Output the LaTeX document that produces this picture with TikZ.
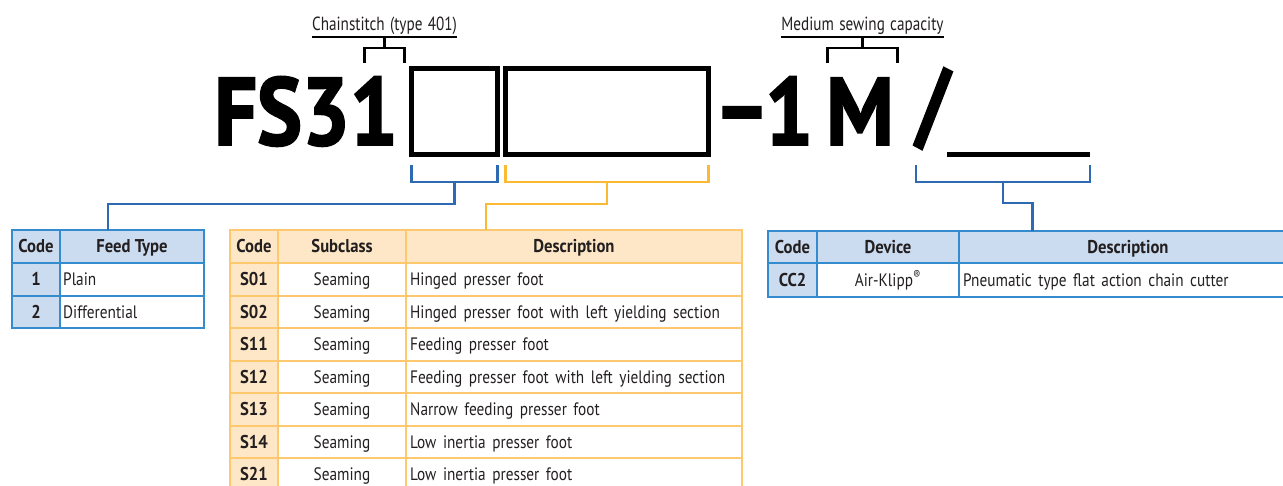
\documentclass[tikz,border=0pt]{standalone}
\usepackage{fontspec}
\setmainfont{PT Sans}[FakeStretch=0.85, WordSpace=1.6]
\newfontfamily\headfont{PT Sans}[FakeStretch=0.9]
\newfontfamily\labelfont{PT Sans}[FakeStretch=0.8, WordSpace=1.3]
\newfontfamily\bigfont{PT Sans}[FakeStretch=0.88, BoldFeatures={FakeBold=2}]
\usepackage{tikz}
\usetikzlibrary{positioning, calc}
\definecolor{linkblue}{RGB}{46,106,178}
\definecolor{tblblue}{RGB}{52,140,206}
\definecolor{fillblue}{RGB}{203,219,240}
\definecolor{linkorange}{RGB}{252,186,52}
\definecolor{tblorange}{RGB}{253,200,110}
\definecolor{fillorange}{RGB}{253,231,198}
\definecolor{ink}{RGB}{35,31,32}

\tikzset{
  bigtxt/.style={font=\bigfont\bfseries\fontsize{96}{96}\selectfont, inner sep=0, anchor=base},
  toplabel/.style={font=\labelfont\fontsize{19}{22}\selectfont, inner sep=0, anchor=base, text height=14, text depth=7, text=ink},
  codebox/.style={draw, line width=5, inner sep=0, outer sep=0},
  tag/.style={line width=2.5},
  bluelink/.style={draw=linkblue, line width=2.5},
  orangelink/.style={draw=linkorange, line width=2.5},
  celltxt/.style={inner sep=0, text height=12.5, text depth=0, text=ink, font=\fontsize{18}{20}\selectfont},
  codetxt/.style={celltxt, font=\headfont\bfseries\fontsize{18.5}{20}\selectfont},
  frame/.style={line width=2, inner sep=0, outer sep=0, anchor=north west}
}

\begin{document}
\begin{tikzpicture}[x=1pt, y=-1pt]
    \useasboundingbox (0,0) rectangle (1283,485);
    \clip (0,0) rectangle (1283,485);

    % Model code
    \node[bigtxt] (fs) at (306,145) {FS31};
    \node[codebox, minimum width=86, minimum height=86] (box1) at (454.5,111.5) {};
    \node[codebox, minimum width=203, minimum height=86] (box2) at (607,111.5) {};
    \node[bigtxt] (dash) at (742,140) {–};
    \node[bigtxt] (one) at (789,145) {1};
    \node[bigtxt] (emm) at (860,145) {M};
    \node[bigtxt] (slash) at (933,136) {/};
    \node[fill=black, inner sep=0, minimum width=143, minimum height=5] (blank) at (1018.5,154.5) {};

    % Top labels
    \node[toplabel] (chain) at (384.5,30) {Chainstitch (type 401)};
    \draw[tag] (chain.south west) -- (chain.south east);
    \draw[tag] (chain.south) -- ++(0,11) coordinate (chainmid);
    \draw[tag] ($(chainmid)+(-20,15)$) -- ++(0,-15) -- ++(40,0) -- ++(0,15);

    \node[toplabel] (medium) at (862.5,30) {Medium sewing capacity};
    \draw[tag] (medium.south west) -- (medium.south east);
    \draw[tag] (medium.south) -- ++(0,11) coordinate (mediummid);
    \draw[tag] ($(mediummid)+(-35,15)$) -- ++(0,-15) -- ++(70,0) -- ++(0,15);

    % Feed type table
    \fill[fillblue] (12,230) rectangle (204,263);
    \fill[fillblue] (12,263) rectangle (60,328);
    \draw[tblblue, line width=2] (12,263) -- (204,263) (12,296) -- (204,296) (60,230) -- (60,328);
    \node[frame, draw=tblblue, minimum width=192, minimum height=98] (feed) at (12,230) {};
    \node[codetxt] (feedcode) at (36,246.5) {Code};
    \node[codetxt] (feedtype) at (132,246.5) {Feed Type};
    \node[codetxt] (f1) at (36,279.5) {1};
    \node[celltxt, anchor=west] (f1d) at (63,279.5) {Plain};
    \node[codetxt] (f2) at (36,312) {2};
    \node[celltxt, anchor=west] (f2d) at (63,312) {Differential};

    % Subclass table
    \fill[fillorange] (230,229.5) rectangle (742,263);
    \fill[fillorange] (230,263) rectangle (278,491);
    \foreach \i in {0,...,6}
        \draw[tblorange, line width=2] (230,{263+32.5*\i}) -- (742,{263+32.5*\i});
    \draw[tblorange, line width=2] (278,229.5) -- (278,491) (406,229.5) -- (406,491);
    \node[frame, draw=tblorange, minimum width=512, minimum height=261] (sub) at (230,229.5) {};
    \node[codetxt] (subcode) at (254,246.5) {Code};
    \node[codetxt] (subclass) at (342,246.5) {Subclass};
    \node[codetxt] (subdesc) at (574,246.5) {Description};
    \foreach \c/\d [count=\i] in {S01/Hinged presser foot,
        S02/Hinged presser foot with left yielding section,
        S11/Feeding presser foot,
        S12/Feeding presser foot with left yielding section,
        S13/Narrow feeding presser foot,
        S14/Low inertia presser foot,
        S21/Low inertia presser foot} {
        \node[codetxt] (sc\i) at (254,{246.75+32.5*\i}) {\c};
        \node[celltxt] (ss\i) at (342,{246.75+32.5*\i}) {Seaming};
        \node[celltxt, anchor=west] (sd\i) at (410,{246.75+32.5*\i}) {\d};
    }

    % Device table
    \fill[fillblue] (768,231) rectangle (1297,263);
    \fill[fillblue] (768,263) rectangle (817,297);
    \draw[tblblue, line width=2] (768,263) -- (1297,263) (817,231) -- (817,297) (959,231) -- (959,297);
    \node[frame, draw=tblblue, minimum width=529, minimum height=66] (device) at (768,231) {};
    \node[codetxt] (devcode) at (792.5,247) {Code};
    \node[codetxt] (devname) at (888,247) {Device};
    \node[codetxt] (devdesc) at (1128,247) {Description};
    \node[codetxt] (cc2) at (792.5,280) {CC2};
    \node[celltxt] (airklipp) at (888,280) {Air-Klipp\textsuperscript{®}};
    \node[celltxt, anchor=west] (cc2d) at (963,280) {Pneumatic type flat action chain cutter};

    % Feed type link
    \draw[bluelink] ($(box1.south west)+(0,10.5)$) -- ++(0,17) -| ($(box1.south east)+(0,10.5)$);
    \draw[bluelink] ($(box1.south)+(0,27.5)$) -- ++(0,22) -| (feed.north);

    % Subclass link
    \draw[orangelink] ($(box2.south west)+(0,10.5)$) -- ++(0,17) -| ($(box2.south east)+(0,10.5)$);
    \draw[orangelink] ($(box2.south)+(0,27.5)$) -- ++(0,22) -| (sub.north);

    % Device link
    \coordinate (devleft) at ($(slash.base)+(-17,29)$);
    \coordinate (devright) at ($(blank.east)+(0,10.5)$);
    \draw[bluelink] (devleft) -- ++(0,17) -| (devright);
    \draw[bluelink] ($(devleft)!0.5!(devright)+(0,17)$) -- ++(0,21) -| (device.north);
\end{tikzpicture}
\end{document}
